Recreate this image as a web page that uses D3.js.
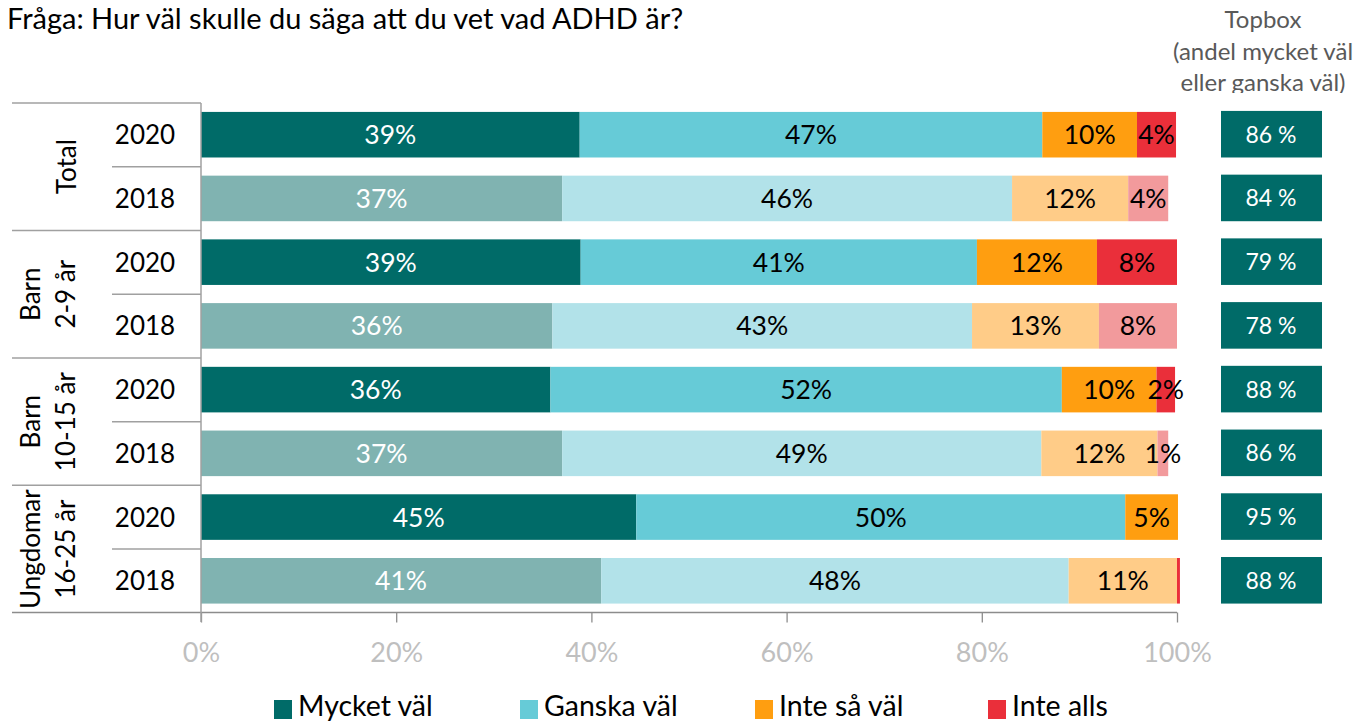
<!DOCTYPE html>
<html>
<head>
<meta charset="utf-8">
<script src="https://cdn.jsdelivr.net/npm/d3@7"></script>
<style>
  body { margin: 0; background: #fff; }
  svg { display: block; font-family: Lato, "Open Sans", sans-serif; }
</style>
</head>
<body>
<svg id="chart" width="1361" height="722"></svg>
<script>
// data
const title = "Fråga: Hur väl skulle du säga att du vet vad ADHD är?";
const groups = [["Total"], ["Barn", "2-9 år"], ["Barn", "10-15 år"], ["Ungdomar", "16-25 år"]];
const years = ["2020", "2018"];
const series = ["Mycket väl", "Ganska väl", "Inte så väl", "Inte alls"];
const mycketVal = [38.8, 37.0, 38.9, 36.0, 35.8, 37.0, 44.6, 41.0];
const ganskaVal = [47.4, 46.1, 40.6, 43.0, 52.4, 49.1, 50.1, 47.9];
const inteSaVal = [9.7, 11.9, 12.3, 13.0, 9.7, 11.9, 5.4, 11.1];
const inteAlls = [4.0, 4.1, 8.2, 8.0, 1.9, 1.1, 0, 0.3];
const topbox = [86, 84, 79, 78, 88, 86, 95, 88];
const xTicks = [0, 20, 40, 60, 80, 100];
const topboxTitle = ["Topbox", "(andel mycket väl", "eller ganska väl)"];

const colors2020 = ["#006b68", "#66cbd7", "#ff9e10", "#ea2f3a"];
const colors2018 = ["#80b3b1", "#b2e2e9", "#ffcc88", "#f29a9c"];
const labelCol = ["#fff", "#000", "#000", "#000"];

const svg = d3.select("#chart");
const rows = d3.merge(groups.map((g, gi) => years.map((y, yi) => ({g: gi, year: y, i: gi * 2 + yi}))));
const vals = [mycketVal, ganskaVal, inteSaVal, inteAlls];

const x = d3.scaleLinear().domain([0, 100]).range([201, 1177]);
const y = d3.scaleBand().domain(rows.map(r => r.i)).range([103, 612.5])
  .paddingInner(0.285).paddingOuter(0.14);
const band = y.step();

svg.append("text").attr("x", 7).attr("y", 29)
  .attr("font-size", 29).attr("fill", "#000").text(title);

// stacked segments
rows.forEach(r => {
  let x0 = 0;
  const segs = vals.map((v, k) => {
    const s = {k: k, x0: x0, v: v[r.i]};
    x0 += v[r.i];
    return s;
  });
  const cols = r.year === "2020" ? colors2020 : colors2018;
  const g = svg.append("g");
  g.selectAll("rect").data(segs.filter(s => s.v > 0)).join("rect")
    .attr("x", s => x(s.x0)).attr("width", s => x(s.x0 + s.v) - x(s.x0))
    .attr("y", y(r.i)).attr("height", y.bandwidth())
    .attr("fill", s => s.v < 0.5 ? colors2020[s.k] : cols[s.k]);
  g.selectAll("text").data(segs.filter(s => Math.round(s.v) > 0)).join("text")
    .attr("x", s => x(s.x0 + s.v / 2)).attr("y", y(r.i) + y.bandwidth() / 2 + 9.5)
    .attr("text-anchor", "middle").attr("font-size", 26.5)
    .attr("fill", s => labelCol[s.k])
    .text(s => Math.round(s.v) + "%");
});

// topbox boxes
svg.append("g").selectAll("rect").data(rows).join("rect")
  .attr("x", 1221).attr("width", 101)
  .attr("y", r => y(r.i) - 1).attr("height", y.bandwidth() + 1)
  .attr("fill", "#006b68");
svg.append("g").selectAll("text").data(rows).join("text")
  .attr("x", 1271).attr("y", r => y(r.i) + y.bandwidth() / 2 + 8)
  .attr("text-anchor", "middle").attr("font-size", 23).attr("fill", "#fff")
  .text(r => topbox[r.i] + " %");

svg.append("defs").append("clipPath").attr("id", "tbclip")
  .append("rect").attr("x", 1100).attr("y", 0).attr("width", 261).attr("height", 93);
svg.append("g").attr("clip-path", "url(#tbclip)")
  .selectAll("text").data(topboxTitle).join("text")
  .attr("x", 1263).attr("y", (d, i) => 28 + i * 31.5)
  .attr("text-anchor", "middle").attr("font-size", 24).attr("fill", "#595959")
  .text(d => d);

// x axis
const xAxis = svg.append("g").attr("transform", "translate(0,612.5)")
  .call(d3.axisBottom(x).tickValues(xTicks).tickFormat(d => d + "%").tickSize(10).tickPadding(20));
xAxis.select(".domain").attr("stroke", "#8c8c8c").attr("stroke-width", 1.5)
  .attr("d", "M12,0H1177");
xAxis.selectAll(".tick line").attr("stroke", "#8c8c8c").attr("stroke-width", 1.3);
xAxis.selectAll(".tick text").attr("font-size", 27).attr("fill", "#bfbfbf")
  .attr("font-family", "Lato, sans-serif");

// category axis with separators
const cat = svg.append("g").attr("stroke", "#a0a0a0").attr("stroke-width", 1.5);
cat.append("line").attr("x1", 201).attr("x2", 201).attr("y1", 103).attr("y2", 622);
groups.forEach((g, gi) => {
  const top = 103 + gi * 2 * band;
  cat.append("line").attr("x1", 12).attr("x2", 201).attr("y1", top).attr("y2", top);
  cat.append("line").attr("x1", 112).attr("x2", 201).attr("y1", top + band).attr("y2", top + band);
});
svg.append("g").selectAll("text").data(rows).join("text")
  .attr("x", 145).attr("y", r => y(r.i) + y.bandwidth() / 2 + 9.5)
  .attr("text-anchor", "middle").attr("font-size", 26).attr("fill", "#000")
  .text(r => r.year);

groups.forEach((g, gi) => {
  const cy = 103 + (gi * 2 + 1) * band;
  const xs = g.length === 1 ? [76] : [40, 75];
  g.forEach((line, li) => {
    svg.append("text")
      .attr("transform", "translate(" + xs[li] + "," + cy + ") rotate(-90)")
      .attr("text-anchor", "middle").attr("font-size", 26).attr("fill", "#000")
      .text(line);
  });
});

// legend
const legX = [274, 520, 755, 988];
const leg = svg.append("g").selectAll("g").data(series).join("g")
  .attr("transform", (d, i) => "translate(" + legX[i] + ",0)");
leg.append("rect").attr("x", 0).attr("y", 700).attr("width", 18).attr("height", 19)
  .attr("fill", (d, i) => colors2020[i]);
leg.append("text").attr("x", 24).attr("y", 716).attr("font-size", 28.5).attr("fill", "#000")
  .text(d => d);
</script>
</body>
</html>
